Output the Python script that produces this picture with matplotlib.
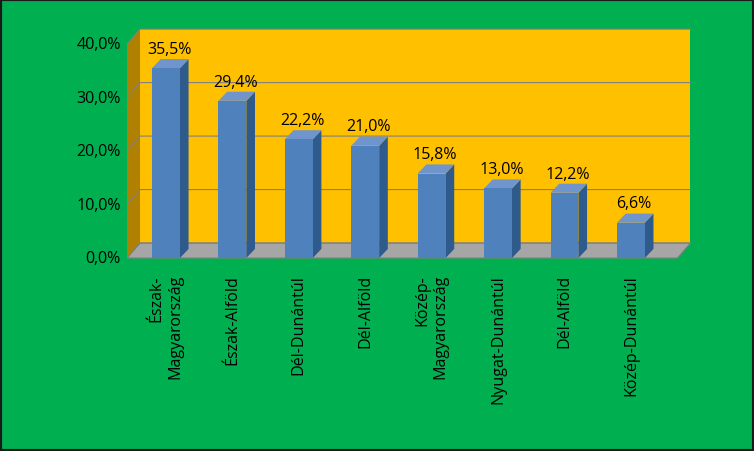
import matplotlib.pyplot as plt
from matplotlib.patches import Polygon

regions = ['Észak-\nMagyarország', 'Észak-Alföld', 'Dél-Dunántúl', 'Dél-Alföld',
           'Közép-\nMagyarország', 'Nyugat-Dunántúl', 'Dél-Alföld', 'Közép-Dunántúl']
values = [35.5, 29.4, 22.2, 21.0, 15.8, 13.0, 12.2, 6.6]
yticks = [0, 10, 20, 30, 40]

plt.rcParams['font.family'] = 'Open Sans'

fig = plt.figure(figsize=(7.54, 4.52), dpi=100)
fig.patch.set_facecolor('#00b050')
fig.patches.append(plt.Rectangle((0, 0), 1, 1, transform=fig.transFigure,
                                 fill=False, edgecolor='#1a1a1a', linewidth=3))
ax = fig.add_axes([127/754, (452-265)/452, (692-127)/754, (265-28)/452])
ax.set_xlim(-0.587, 7.92)
ax.set_ylim(-1.12, 43.2)
ax.axis('off')

x0, x1 = -0.587, 7.70
dx, dy = 0.196, 2.8
ymax = 40

# walls and floor
ax.add_patch(Polygon([(x0 + dx, dy), (x1 + dx, dy), (x1 + dx, ymax + dy), (x0 + dx, ymax + dy)],
                     facecolor='#ffc000', edgecolor='none', zorder=1))
ax.add_patch(Polygon([(x0, 0), (x0 + dx, dy), (x0 + dx, ymax + dy), (x0, ymax)],
                     facecolor='#b08000', edgecolor='none', zorder=1))
ax.add_patch(Polygon([(x0, 0), (x1, 0), (x1 + dx, dy), (x0 + dx, dy)],
                     facecolor='#a6a6a6', edgecolor='#808080', linewidth=0.8, zorder=1))
for t in yticks:
    ax.plot([x0, x0 + dx, x1 + dx], [t, t + dy, t + dy], color='#808080', lw=0.8, zorder=2)
    ax.plot([x0 - 0.05, x0], [t, t], color='#808080', lw=0.8, zorder=2)
    ax.text(x0 - 0.09, t, f'{t:.1f}%'.replace('.', ','), ha='right', va='center', fontsize=11.5)
ax.plot([x0, x0], [0, ymax], color='#808080', lw=0.8, zorder=2)

# bars
w = 0.21
bdx, bdy = 0.13, 1.7
for i, v in enumerate(values):
    l, r = i - w, i + w
    ax.add_patch(Polygon([(r, 0), (r + bdx, bdy), (r + bdx, v + bdy), (r, v)],
                         facecolor='#2f5a8c', edgecolor='none', zorder=3))
    ax.add_patch(Polygon([(l, v), (r, v), (r + bdx, v + bdy), (l + bdx, v + bdy)],
                         facecolor='#6f95cc', edgecolor='none', zorder=3))
    ax.add_patch(Polygon([(l, 0), (r, 0), (r, v), (l, v)],
                         facecolor='#4f81bd', edgecolor='none', zorder=3))
    ax.text(i + 0.05, v + bdy + 0.4, f'{v:.1f}%'.replace('.', ','), ha='center',
            va='bottom', fontsize=11.5, zorder=4)
    ax.text(i, -3, regions[i], rotation=90, ha='center', va='top', fontsize=11.5,
            multialignment='right', zorder=4)

fig.savefig('out.png', dpi=100, facecolor=fig.get_facecolor())
